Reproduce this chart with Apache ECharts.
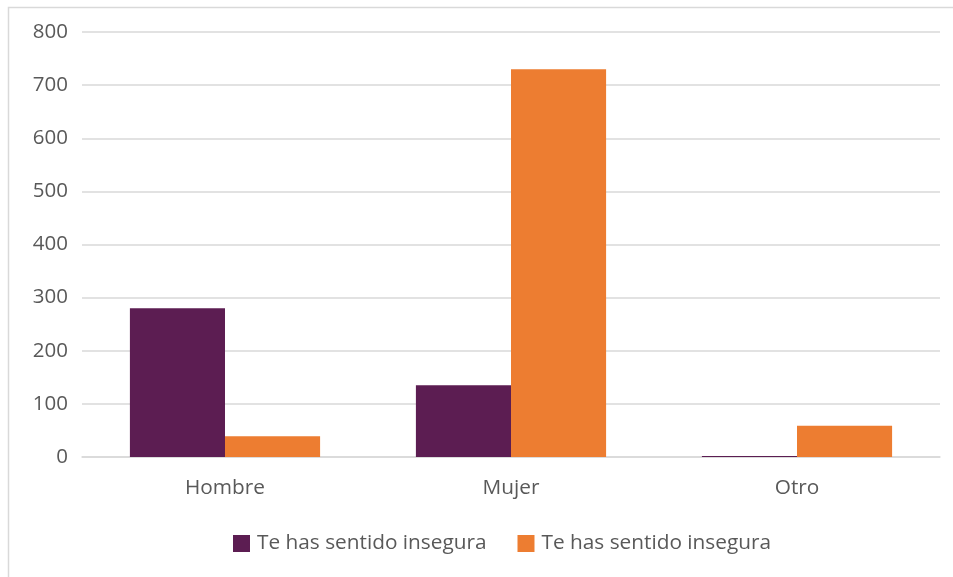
<!DOCTYPE html>
<html><head><meta charset="utf-8">
<script src="https://cdn.jsdelivr.net/npm/echarts@6/dist/echarts.min.js"></script>
<style>html,body{margin:0;padding:0;background:#fff}#c{width:953px;height:577px}</style>
</head><body><div id="c"></div>
<script>
const categories = ['Hombre', 'Mujer', 'Otro'];
const seriesNames = ['Te has sentido insegura', 'Te has sentido insegura '];
const seriesA = [280, 135, 2];
const seriesB = [39, 730, 59];
const yTicks = [0, 100, 200, 300, 400, 500, 600, 700, 800];

const font = '"Open Sans", "Noto Sans", sans-serif';
const chart = echarts.init(document.getElementById('c'), null, {renderer: 'canvas'});
chart.setOption({
  animation: false,
  backgroundColor: '#fff',
  graphic: [{
    type: 'rect', left: 6, top: 5, silent: true,
    shape: {width: 1000, height: 600},
    style: {fill: 'none', stroke: '#d9d9d9', lineWidth: 1.5}
  }],
  grid: {left: 82, right: 13, top: 32, bottom: 120, containLabel: false},
  legend: {
    bottom: 18, left: 228, itemWidth: 17, itemHeight: 17, itemGap: 31,
    icon: 'rect',
    textStyle: {fontFamily: font, fontSize: 20.8, color: '#595959', padding: [0,0,0,2]},
    data: seriesNames
  },
  xAxis: {
    type: 'category', data: categories,
    axisLine: {show: true, lineStyle: {color: '#d9d9d9', width: 1.5}},
    axisTick: {show: false},
    axisLabel: {fontFamily: font, fontSize: 20.8, color: '#595959', margin: 21}
  },
  yAxis: {
    type: 'value', min: yTicks[0], max: yTicks[yTicks.length-1], interval: 100,
    axisLine: {show: false}, axisTick: {show: false},
    splitLine: {lineStyle: {color: '#d9d9d9', width: 1.5}},
    axisLabel: {fontFamily: font, fontSize: 20.5, color: '#595959', margin: 14}
  },
  series: [
    {name: seriesNames[0], type: 'bar', data: seriesA, barGap: '0%', barCategoryGap: '33.5%',
     itemStyle: {color: '#5C1D52'}},
    {name: seriesNames[1], type: 'bar', data: seriesB, barGap: '0%', barCategoryGap: '33.5%',
     itemStyle: {color: '#ED7D31'}}
  ]
});
</script></body></html>
